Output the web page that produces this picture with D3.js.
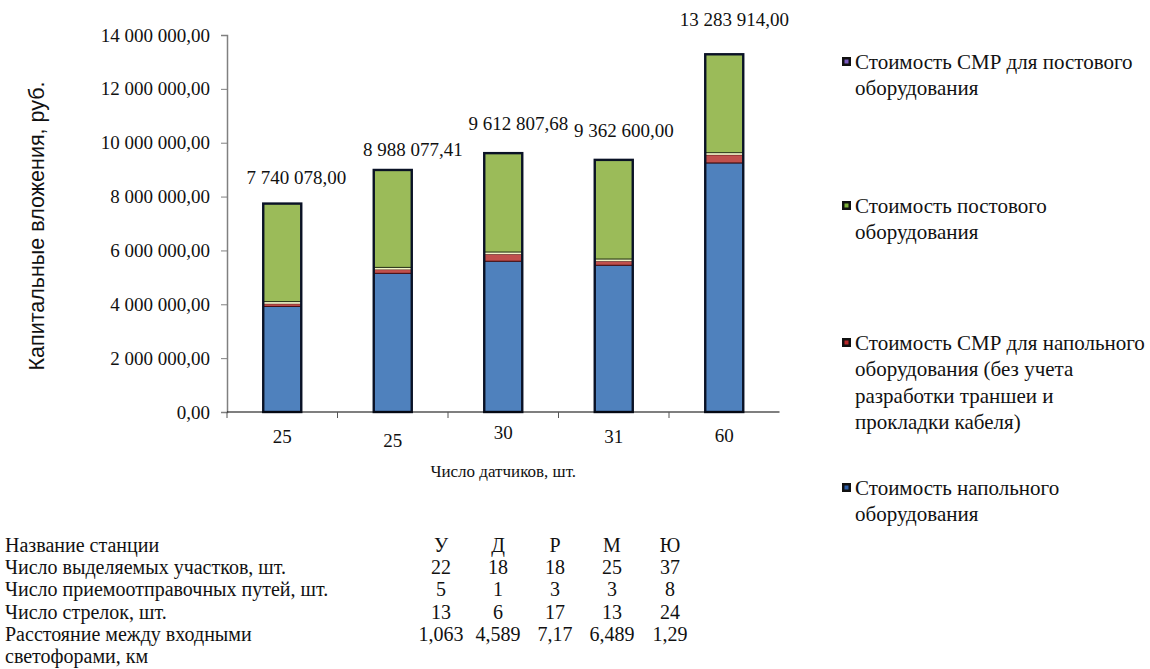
<!DOCTYPE html>
<html>
<head>
<meta charset="utf-8">
<script src="https://cdn.jsdelivr.net/npm/d3@7"></script>
<style>
  html, body { margin: 0; padding: 0; background: #fff; }
  svg { display: block; }
</style>
</head>
<body>
<svg id="chart" width="1150" height="669"></svg>
<script>
// Number of sensors per station (category labels on the x axis)
const sensorCounts = ["25", "25", "30", "31", "60"];

// Stacked cost components, rubles (bottom to top)
const floorEquipment = [3920000, 5150000, 5600000, 5450000, 9250000];   // Стоимость напольного оборудования
const floorWorks     = [100000, 140000, 260000, 150000, 300000];        // СМР для напольного оборудования
const postWorks      = [80000, 80000, 80000, 80000, 80000];             // СМР для постового оборудования
const postEquipment  = [3640078, 3618077.41, 3672807.68, 3682600, 3653914]; // Стоимость постового оборудования

const yTicks = [0, 2000000, 4000000, 6000000, 8000000, 10000000, 12000000, 14000000];

// Station table under the chart
const stationNames   = ["У", "Д", "Р", "М", "Ю"];
const sectionCounts  = ["22", "18", "18", "25", "37"];
const trackCounts    = ["5", "1", "3", "3", "8"];
const switchCounts   = ["13", "6", "17", "13", "24"];
const signalDistance = ["1,063", "4,589", "7,17", "6,489", "1,29"];

const SERIF = "'Liberation Serif', 'Times New Roman', serif";
const SANS = "'Liberation Sans', Arial, sans-serif";

const seriesDefs = [
  { key: "floorEquipment", values: floorEquipment, fill: "#4f81bd", edge: "#0c1730", swatch: "#2f5fa8",
    legend: ["Стоимость напольного", "оборудования"] },
  { key: "floorWorks", values: floorWorks, fill: "#c0504d", edge: "#4a0d10", swatch: "#b8282a",
    legend: ["Стоимость СМР для напольного", "оборудования (без учета", "разработки траншеи и", "прокладки кабеля)"] },
  { key: "postWorks", values: postWorks, fill: "#f1f6c6", edge: "none", swatch: "#7a5bc0",
    legend: ["Стоимость СМР для постового", "оборудования"] },
  { key: "postEquipment", values: postEquipment, fill: "#9bbb59", edge: "#1f2a10", swatch: "#7fb23a",
    legend: ["Стоимость постового", "оборудования"] }
];

const rows = sensorCounts.map((c, i) => {
  const r = { cat: i };
  seriesDefs.forEach(s => r[s.key] = s.values[i]);
  return r;
});
const total = d => d3.sum(seriesDefs, s => d[s.key]);

const svg = d3.select("#chart").style("font-family", SERIF);
const plotLeft = 227, plotRight = 779.5, plotTop = 35, plotBottom = 412;

const x = d3.scaleBand().domain(d3.range(sensorCounts.length)).range([plotLeft, plotRight])
  .paddingInner(0.656).paddingOuter(0.328);
const xStep = d3.scaleLinear().domain([0, sensorCounts.length]).range([plotLeft, plotRight]);
const y = d3.scaleLinear().domain([0, 14000000]).range([plotBottom, plotTop]);

const ruLocale = d3.formatLocale({ decimal: ",", thousands: " ", grouping: [3], currency: ["", " руб."] });
const fmt = ruLocale.format(",.2f");

function label(sel, size, family) {
  return sel.style("font-family", family || SERIF).style("font-size", size + "px").style("fill", "#111");
}

// Y axis
const yAxis = svg.append("g").attr("transform", `translate(${plotLeft},0)`)
  .call(d3.axisLeft(y).tickValues(yTicks).tickFormat(fmt).tickSize(6).tickPadding(11));
yAxis.attr("font-family", null).attr("font-size", null);
yAxis.select(".domain").attr("stroke", "#808080").attr("stroke-width", 1.5);
yAxis.selectAll(".tick line").attr("stroke", "#808080");
label(yAxis.selectAll(".tick text"), 19);

// Y axis title
label(svg.append("text")
  .attr("transform", `translate(44,226) rotate(-90)`)
  .attr("text-anchor", "middle"), 21.5, SANS)
  .text("Капитальные вложения, руб.");

// Stacked bars
const stack = d3.stack().keys(seriesDefs.map(s => s.key));
const layers = stack(rows);
const barG = svg.append("g");
layers.forEach((layer, li) => {
  barG.selectAll(null).data(layer).join("rect")
    .attr("x", d => x(d.data.cat))
    .attr("width", x.bandwidth())
    .attr("y", d => y(d[1]))
    .attr("height", d => y(d[0]) - y(d[1]))
    .attr("fill", seriesDefs[li].fill)
    .attr("stroke", seriesDefs[li].edge)
    .attr("stroke-width", 1);
});
// dark outline around each full stack
barG.selectAll(null).data(rows).join("rect")
  .attr("x", d => x(d.cat))
  .attr("width", x.bandwidth())
  .attr("y", d => y(total(d)))
  .attr("height", d => plotBottom - y(total(d)))
  .attr("fill", "none")
  .attr("stroke", "#0a1226")
  .attr("stroke-width", 2.4);

// X axis line and category boundary ticks
svg.append("line").attr("x1", plotLeft).attr("x2", plotRight).attr("y1", plotBottom).attr("y2", plotBottom)
  .attr("stroke", "#000").attr("stroke-width", 1.2);
svg.selectAll(null).data(d3.range(0, sensorCounts.length)).join("line")
  .attr("x1", d => xStep(d)).attr("x2", d => xStep(d))
  .attr("y1", plotBottom).attr("y2", plotBottom + 6)
  .attr("stroke", "#555").attr("stroke-width", 1);
const tickDrop = [0, 4, -4, 0, -1];
label(svg.selectAll(null).data(sensorCounts).join("text")
  .attr("x", (d, i) => x(i) + x.bandwidth() / 2)
  .attr("y", (d, i) => plotBottom + 31 + tickDrop[i])
  .attr("text-anchor", "middle"), 19)
  .text(d => d);

label(svg.append("text")
  .attr("x", (plotLeft + plotRight) / 2).attr("y", 477)
  .attr("text-anchor", "middle"), 17)
  .text("Число датчиков, шт.");

// Total labels above stacks, nudged as placed on the sheet
const labelNudge = [[14, -20], [20, -14], [15, -23], [10, -23], [10, -28]];
label(svg.selectAll(null).data(rows).join("text")
  .attr("x", (d, i) => x(d.cat) + x.bandwidth() / 2 + labelNudge[i][0])
  .attr("y", (d, i) => y(total(d)) + labelNudge[i][1])
  .attr("text-anchor", "middle"), 19)
  .text(d => fmt(total(d)));

// Legend
const legendOrder = ["postWorks", "postEquipment", "floorWorks", "floorEquipment"];
const legendY = [69, 213, 350, 495];
const lg = svg.append("g");
legendOrder.forEach((key, k) => {
  const s = seriesDefs.find(d => d.key === key);
  const g = lg.append("g").attr("transform", `translate(842,${legendY[k]})`);
  g.append("rect").attr("x", 0).attr("y", -12).attr("width", 9).attr("height", 9).attr("fill", "#111");
  g.append("rect").attr("x", 2.5).attr("y", -9.5).attr("width", 4).attr("height", 4).attr("fill", s.swatch);
  s.legend.forEach((line, j) => {
    label(g.append("text").attr("x", 13).attr("y", j * 26.3), 21).text(line);
  });
});

// Station table
const tableRows = [
  ["Название станции", stationNames],
  ["Число выделяемых участков, шт.", sectionCounts],
  ["Число приемоотправочных путей, шт.", trackCounts],
  ["Число стрелок, шт.", switchCounts],
  ["Расстояние между входными", signalDistance],
  ["светофорами, км", null]
];
const colX = [441, 498, 555, 612, 670];
const tg = svg.append("g");
tableRows.forEach((r, k) => {
  const ty = 552 + k * 22.2;
  label(tg.append("text").attr("x", 5).attr("y", ty), 20).text(r[0]);
  if (r[1]) {
    r[1].forEach((v, i) => {
      label(tg.append("text").attr("x", colX[i]).attr("y", ty).attr("text-anchor", "middle"), 20).text(v);
    });
  }
});
</script>
</body>
</html>
